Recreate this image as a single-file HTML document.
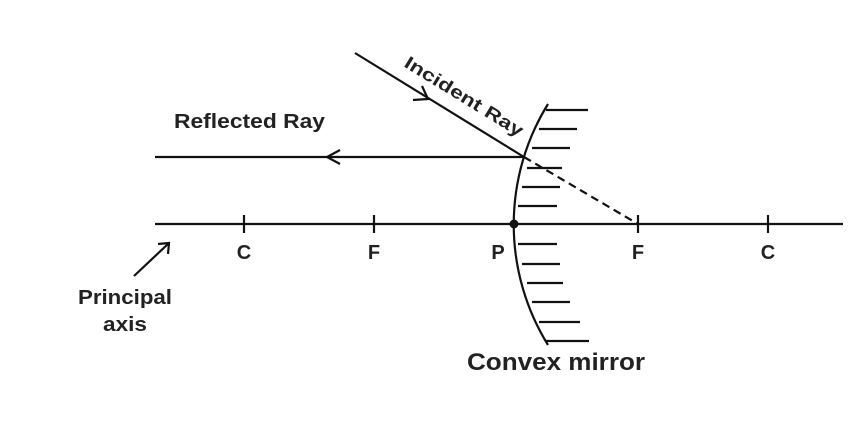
<!DOCTYPE html>
<html><head><meta charset="utf-8"><style>
html,body{margin:0;padding:0;background:#fff;}
svg{display:block;}
text{font-family:"Liberation Sans",sans-serif;fill:#222;font-weight:bold;}
</style></head><body>
<svg width="866" height="428" viewBox="0 0 866 428" xmlns="http://www.w3.org/2000/svg">
<g stroke="#111" stroke-width="2.2" fill="none" stroke-linecap="butt">
<line x1="155" y1="224" x2="843" y2="224"/>
<line x1="155" y1="157" x2="524" y2="157"/>
<line x1="355" y1="53" x2="524" y2="157"/>
<line x1="524" y1="157" x2="638" y2="224" stroke-dasharray="8,5"/>
<path d="M548 104 A229 229 0 0 0 548 345"/>
<line x1="244" y1="215" x2="244" y2="233"/>
<line x1="374" y1="215" x2="374" y2="233"/>
<line x1="638" y1="215" x2="638" y2="233"/>
<line x1="768" y1="215" x2="768" y2="233"/>
<polyline points="340,150 327,157 340,164"/>
<polyline points="413,100 428,99 422,86"/>
<line x1="134" y1="276" x2="169" y2="243"/>
<polyline points="158,244 169,243 168,254"/>
<line x1="546" y1="110" x2="588" y2="110"/>
<line x1="539" y1="129" x2="577" y2="129"/>
<line x1="532" y1="148" x2="570" y2="148"/>
<line x1="527" y1="168" x2="562" y2="168"/>
<line x1="522" y1="187" x2="560" y2="187"/>
<line x1="518" y1="206" x2="557" y2="206"/>
<line x1="518" y1="244" x2="557" y2="244"/>
<line x1="522" y1="264" x2="560" y2="264"/>
<line x1="527" y1="283" x2="563" y2="283"/>
<line x1="532" y1="302" x2="570" y2="302"/>
<line x1="539" y1="322" x2="580" y2="322"/>
<line x1="546" y1="341" x2="589" y2="341"/>
</g>
<circle cx="514" cy="224" r="4.5" fill="#111"/>
<g font-size="20" text-anchor="middle">
<text x="244" y="259">C</text>
<text x="374" y="259">F</text>
<text x="498" y="259">P</text>
<text x="638" y="259">F</text>
<text x="768" y="259">C</text>
</g>
<text x="174" y="128" font-size="20" textLength="151" lengthAdjust="spacingAndGlyphs">Reflected Ray</text>
<text x="403" y="66" font-size="18" textLength="136" lengthAdjust="spacingAndGlyphs" transform="rotate(31.6 403 66)">Incident Ray</text>
<text x="78" y="304" font-size="20" textLength="94" lengthAdjust="spacingAndGlyphs">Principal</text>
<text x="103" y="331" font-size="20" textLength="44" lengthAdjust="spacingAndGlyphs">axis</text>
<text x="467" y="370" font-size="24" textLength="178" lengthAdjust="spacingAndGlyphs">Convex mirror</text>
</svg>
</body></html>
